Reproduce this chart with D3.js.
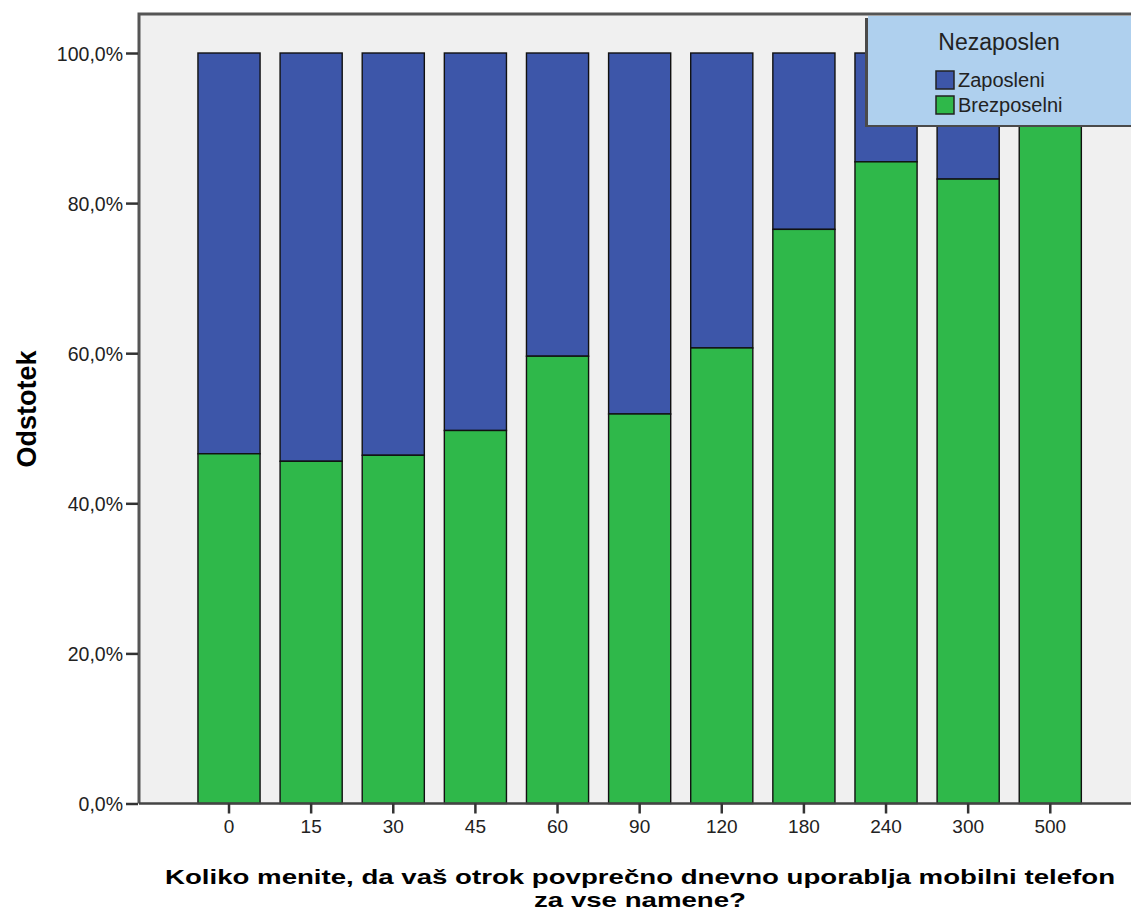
<!DOCTYPE html>
<html><head><meta charset="utf-8">
<script src="https://cdn.jsdelivr.net/npm/d3@7"></script>
<style>body{margin:0;background:#fff}svg{display:block}text{font-family:"Liberation Sans",Arial,sans-serif}</style>
</head><body><svg id="c" width="1131" height="913"></svg>
<script>
const categories = ["0","15","30","45","60","90","120","180","240","300","500"];
const brezposelni = [46.6, 45.6, 46.4, 49.7, 59.6, 51.9, 60.7, 76.5, 85.5, 83.2, 100];
const zaposleni = brezposelni.map(v => 100 - v);
const yTicks = [0, 20, 40, 60, 80, 100];
const seriesNames = ["Zaposleni", "Brezposelni"];
const colors = {Zaposleni: "#3d56a9", Brezposelni: "#2fb84a"};

const svg = d3.select("#c");
const L = 139, T = 14, R = 1140, B = 803.5;
svg.append("rect").attr("x", L).attr("y", T).attr("width", R - L).attr("height", B - T).attr("fill", "#f0f0f0");

const x = d3.scaleBand().domain(categories).range([188.1, 1091.2]).paddingInner(0.2436).paddingOuter(0.12);
const y = d3.scaleLinear().domain([0, 100]).range([B, 53]);

const g = svg.append("g");
categories.forEach((c, i) => {
  g.append("rect").attr("x", x(c)).attr("width", x.bandwidth())
    .attr("y", y(100)).attr("height", y(brezposelni[i]) - y(100))
    .attr("fill", colors.Zaposleni).attr("stroke", "#111").attr("stroke-width", 1.4);
  g.append("rect").attr("x", x(c)).attr("width", x.bandwidth())
    .attr("y", y(brezposelni[i])).attr("height", y(0) - y(brezposelni[i]))
    .attr("fill", colors.Brezposelni).attr("stroke", "#111").attr("stroke-width", 1.4);
});

// frame
svg.append("path").attr("d", `M${L},${B}V${T}H${R}`).attr("fill", "none").attr("stroke", "#555").attr("stroke-width", 3);
svg.append("line").attr("x1", L).attr("x2", R).attr("y1", B).attr("y2", B).attr("stroke", "#444").attr("stroke-width", 2.5);

// y axis
const fmt = d => d.toFixed(1).replace(".", ",") + "%";
const ya = svg.append("g").attr("transform", `translate(${L - 1},0)`)
  .call(d3.axisLeft(y).tickValues(yTicks).tickFormat(fmt).tickSize(12).tickPadding(3));
ya.attr("font-family", null).attr("font-size", null);
ya.select(".domain").remove();
ya.selectAll("line").attr("stroke", "#333").attr("stroke-width", 2.5);
ya.selectAll("text").attr("font-size", 19.5).attr("fill", "#222").attr("dy", "0.36em");

// x axis
const xa = svg.append("g").attr("transform", `translate(0,${B})`)
  .call(d3.axisBottom(x).tickSize(10).tickPadding(6));
xa.attr("font-family", null).attr("font-size", null);
xa.select(".domain").remove();
xa.selectAll("line").attr("stroke", "#333").attr("stroke-width", 2.5);
xa.selectAll("text").attr("font-size", 19).attr("fill", "#222");

// titles
svg.append("text").attr("transform", "translate(36,409) rotate(-90)").attr("text-anchor", "middle")
  .attr("font-size", 27).attr("font-weight", "bold").attr("fill", "#000").text("Odstotek");
const xt = svg.append("text").attr("text-anchor", "middle").attr("font-weight", "bold").attr("fill", "#000");
const t1 = xt.append("tspan").attr("x", 640).attr("y", 884).text("Koliko menite, da vaš otrok povprečno dnevno uporablja mobilni telefon");
const t2 = xt.append("tspan").attr("x", 640).attr("y", 907).text("za vse namene?");
xt.attr("font-size", 21);
const w1 = t1.node().getComputedTextLength();
t1.attr("textLength", 950).attr("lengthAdjust", "spacingAndGlyphs");
const w2 = t2.node().getComputedTextLength();
t2.attr("textLength", w2 * 950 / w1).attr("lengthAdjust", "spacingAndGlyphs");

// legend
const lg = svg.append("g");
lg.append("rect").attr("x", 865).attr("y", 18).attr("width", 280).attr("height", 109).attr("fill", "#4a4a4a");
lg.append("rect").attr("x", 868).attr("y", 16).attr("width", 280).attr("height", 109).attr("fill", "#afd0ee");
lg.append("text").attr("x", 999).attr("y", 50).attr("text-anchor", "middle").attr("font-size", 23).attr("fill", "#222")
  .text("Nezaposlen");
seriesNames.forEach((s, i) => {
  const yy = 71 + i * 25;
  lg.append("rect").attr("x", 936).attr("y", yy).attr("width", 18).attr("height", 18).attr("fill", colors[s]).attr("stroke", "#222").attr("stroke-width", 1.5);
  lg.append("text").attr("x", 958).attr("y", yy + 16).attr("font-size", 20).attr("fill", "#222").text(s);
});
</script></body></html>
